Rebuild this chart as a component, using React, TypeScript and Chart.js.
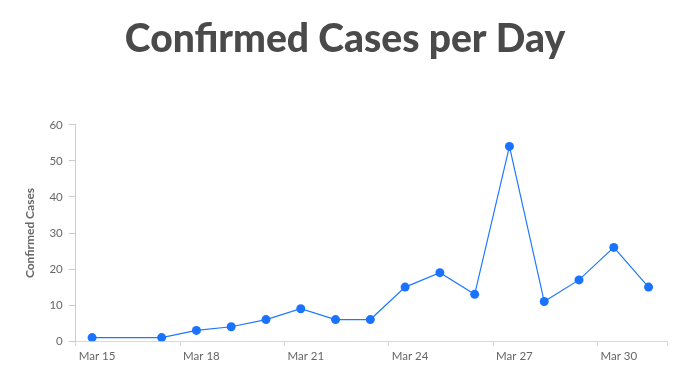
import React, { useEffect, useRef } from "react";
import { Chart, registerables } from "chart.js";

Chart.register(...registerables);

// Day of March for each report
const days = [15, 17, 18, 19, 20, 21, 22, 23, 24, 25, 26, 27, 28, 29, 30, 31];
const cases = [1, 1, 3, 4, 6, 9, 6, 6, 15, 19, 13, 54, 11, 17, 26, 15];
// report time of day (fraction of a day) — reports are timestamped ~11:15
const reportTimeOfDay = 0.47;
const monthLabel = "Mar";
const yTicks = [0, 10, 20, 30, 40, 50, 60];

export default function App() {
  const ref = useRef<HTMLCanvasElement>(null);
  useEffect(() => {
    document.body.style.margin = "0";
    const ctx = ref.current!;
    const chart = new Chart(ctx, {
      type: "line",
      data: {
        datasets: [
          {
            data: days.map((d, i) => ({ x: d + reportTimeOfDay, y: cases[i] })),
            borderColor: "#1f78ff",
            backgroundColor: "#1a73ff",
            borderWidth: 1.2,
            pointRadius: 4.5,
            pointBorderWidth: 0,
            pointHoverRadius: 5,
            tension: 0,
          },
        ],
      },
      options: {
        animation: false,
        responsive: false,
        maintainAspectRatio: false,
        layout: { padding: { left: 23, right: 20, top: 0, bottom: 25 } },
        plugins: {
          legend: { display: false },
          tooltip: { enabled: false },
          title: {
            display: true,
            text: "Confirmed Cases per Day",
            color: "#4a4a4a",
            font: { family: "Lato", size: 39, weight: "900" },
            padding: { top: 16, bottom: 62 },
          },
        },
        scales: {
          x: {
            type: "linear",
            min: 15,
            max: 32,
            grid: { drawOnChartArea: false, tickLength: 5, color: "#d9d9d9" },
            border: { color: "#d9d9d9" },
            ticks: {
              stepSize: 3,
              align: "start",
              labelOffset: 3,
              maxRotation: 0,
              color: "#666",
              font: { family: "Lato", size: 11.5 },
              callback: (v: any) => (Number(v) <= 31 ? `${monthLabel} ${v}` : ""),
              padding: 3,
            },
          },
          y: {
            min: 0,
            max: 60,
            afterBuildTicks: (axis: any) => {
              axis.ticks = yTicks.map((v) => ({ value: v }));
            },
            grid: { drawOnChartArea: false, tickLength: 7, color: "#ccc" },
            border: { color: "#ccc" },
            ticks: {
              color: "#666",
              font: { family: "Lato", size: 11.5 },
              padding: 6,
            },
            title: {
              display: true,
              text: "Confirmed Cases",
              color: "#666",
              font: { family: "Lato", size: 12, weight: "bold" },
              padding: { top: 0, bottom: 6 },
            },
          },
        },
      },
    });
    return () => chart.destroy();
  }, []);
  return (
    <div style={{ position: "absolute", left: 0, top: 0, width: 687, height: 391 }}>
      <canvas ref={ref} width={687} height={391} style={{ width: 687, height: 391 }} />
    </div>
  );
}
